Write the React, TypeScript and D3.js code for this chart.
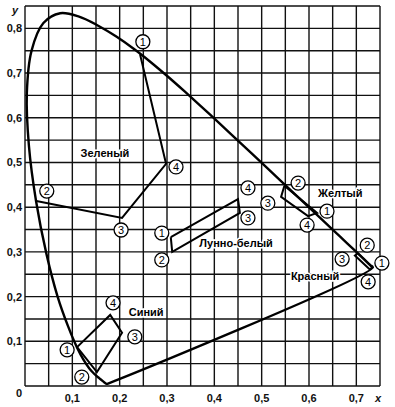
import { useRef, useEffect } from "react";
import * as d3 from "d3";

type Pt = [number, number];

// CIE 1931 spectral locus (x, y), 380–700 nm
const locus: Pt[] = [
  [0.1741, 0.005], [0.1738, 0.0049], [0.1733, 0.0048], [0.1726, 0.0048],
  [0.1714, 0.0051], [0.1689, 0.0069], [0.1644, 0.0109], [0.1566, 0.0177],
  [0.151, 0.0227], [0.144, 0.0297], [0.1355, 0.0399], [0.1241, 0.0578],
  [0.1096, 0.0868], [0.0913, 0.1327], [0.0687, 0.2007], [0.0454, 0.295],
  [0.0235, 0.4127], [0.0082, 0.5384], [0.0039, 0.6548], [0.0139, 0.7502],
  [0.0389, 0.812], [0.0743, 0.8338], [0.1142, 0.8262], [0.1547, 0.8059],
  [0.1929, 0.7816], [0.2296, 0.7543], [0.2658, 0.7243], [0.3016, 0.6923],
  [0.3373, 0.6589], [0.3731, 0.6245], [0.4087, 0.5896], [0.4441, 0.5547],
  [0.4788, 0.5202], [0.5125, 0.4866], [0.5448, 0.4544], [0.5752, 0.4242],
  [0.6029, 0.3965], [0.627, 0.3725], [0.6482, 0.3514], [0.6658, 0.334],
  [0.6801, 0.3197], [0.6915, 0.3083], [0.7006, 0.2993], [0.7079, 0.292],
  [0.714, 0.2859], [0.719, 0.2809], [0.726, 0.274], [0.73, 0.27],
  [0.7347, 0.2653],
];

// signal colour regions: vertices and numbered labels
const green: Pt[] = [[0.243, 0.742], [0.298, 0.497], [0.205, 0.376], [0.024, 0.414]];
const greenNums: Pt[] = [[0.249, 0.77], [0.046, 0.436], [0.203, 0.349], [0.319, 0.49]];

const blue: Pt[] = [[0.11, 0.087], [0.18, 0.159], [0.205, 0.119], [0.152, 0.031]];
const blueNums: Pt[] = [[0.089, 0.081], [0.12, 0.02], [0.232, 0.11], [0.186, 0.186]];

const lunar: Pt[] = [[0.308, 0.333], [0.45, 0.418], [0.454, 0.387], [0.311, 0.3]];
const lunarNums: Pt[] = [[0.289, 0.342], [0.289, 0.282], [0.471, 0.376], [0.471, 0.443]];

const yellow: Pt[] = [[0.548, 0.448], [0.617, 0.387], [0.598, 0.38], [0.541, 0.423]];
const yellowNums: Pt[] = [[0.638, 0.391], [0.577, 0.454], [0.513, 0.409], [0.596, 0.36]];

const red: Pt[] = [[0.703, 0.297], [0.734, 0.265], [0.728, 0.261], [0.697, 0.292]];
const redNums: Pt[] = [[0.754, 0.275], [0.723, 0.315], [0.67, 0.284], [0.725, 0.233]];

const names: { text: string; at: Pt }[] = [
  { text: "Зеленый", at: [0.169, 0.521] },
  { text: "Синий", at: [0.256, 0.166] },
  { text: "Желтый", at: [0.666, 0.432] },
  { text: "Красный", at: [0.613, 0.246] },
  { text: "Лунно-белый", at: [0.446, 0.32] },
];

const xTicks = [0.1, 0.2, 0.3, 0.4, 0.5, 0.6, 0.7];
const yTicks = [0.1, 0.2, 0.3, 0.4, 0.5, 0.6, 0.7, 0.8];

const font = "'Liberation Sans', Arial, sans-serif";

export default function App() {
  const svgRef = useRef<SVGSVGElement>(null);

  useEffect(() => {
    if (!svgRef.current) return;
    const svg = d3.select(svgRef.current);
    svg.selectAll("*").remove();

    const x = d3.scaleLinear().domain([0, 0.75]).range([25, 380]);
    const y = d3.scaleLinear().domain([0, 0.85]).range([386, 6]);
    const fmt = d3.formatLocale({ decimal: ",", thousands: " ", grouping: [3], currency: ["", ""] }).format(".1f");

    // grid
    const grid = svg.append("g").attr("stroke", "#111").attr("stroke-width", 1.4);
    x.ticks(15).forEach((v) => {
      grid.append("line").attr("x1", x(v)).attr("x2", x(v)).attr("y1", y(0)).attr("y2", y(0.85));
    });
    y.ticks(17).forEach((v) => {
      grid.append("line").attr("x1", x(0)).attr("x2", x(0.75)).attr("y1", y(v)).attr("y2", y(v));
    });

    // tick labels
    const lab = svg.append("g").attr("font-family", font).attr("font-size", 11).attr("font-weight", "bold").attr("fill", "#111");
    xTicks.forEach((v) => {
      lab.append("text").attr("x", x(v)).attr("y", 402).attr("text-anchor", "middle").text(fmt(v));
    });
    yTicks.forEach((v) => {
      lab.append("text").attr("x", 22).attr("y", y(v) + 4).attr("text-anchor", "end").text(fmt(v));
    });
    lab.append("text").attr("x", 19).attr("y", 397).attr("text-anchor", "middle").text("0");
    lab.append("text").attr("x", 15).attr("y", 14).attr("text-anchor", "middle").attr("font-style", "italic").text("y");
    lab.append("text").attr("x", 378).attr("y", 402).attr("text-anchor", "middle").attr("font-style", "italic").text("x");

    // spectral locus + purple line
    const line = d3.line<Pt>().x((d) => x(d[0])).y((d) => y(d[1]));
    svg.append("path")
      .attr("d", d3.line<Pt>().x((d) => x(d[0])).y((d) => y(d[1])).curve(d3.curveCatmullRomClosed)(locus) ?? "")
      .attr("fill", "none").attr("stroke", "#000").attr("stroke-width", 2.4).attr("stroke-linejoin", "round");

    // regions
    const regions = svg.append("g").attr("fill", "none").attr("stroke", "#000").attr("stroke-width", 2);
    regions.append("path").attr("d", line(green));
    [blue, lunar, yellow, red].forEach((p) => {
      regions.append("path").attr("d", line([...p, p[0]]));
    });

    // numbered circles
    const nums = svg.append("g").attr("font-family", font).attr("font-size", 11);
    [greenNums, blueNums, lunarNums, yellowNums, redNums].forEach((set) => {
      set.forEach((p, i) => {
        nums.append("circle").attr("cx", x(p[0])).attr("cy", y(p[1])).attr("r", 7)
          .attr("fill", "#fff").attr("stroke", "#000").attr("stroke-width", 1.3);
        nums.append("text").attr("x", x(p[0])).attr("y", y(p[1]) + 4).attr("text-anchor", "middle").text(i + 1);
      });
    });

    // region names
    const nm = svg.append("g").attr("font-family", font).attr("font-size", 11).attr("font-weight", "bold");
    names.forEach((n) => {
      const t = nm.append("text").attr("x", x(n.at[0])).attr("y", y(n.at[1]) + 4).attr("text-anchor", "middle").text(n.text);
      t.clone(true).lower().attr("stroke", "#fff").attr("stroke-width", 3);
    });
  }, []);

  return <svg ref={svgRef} width={395} height={407} style={{ position: "absolute", left: 0, top: 0, background: "#fff" }} />;
}
